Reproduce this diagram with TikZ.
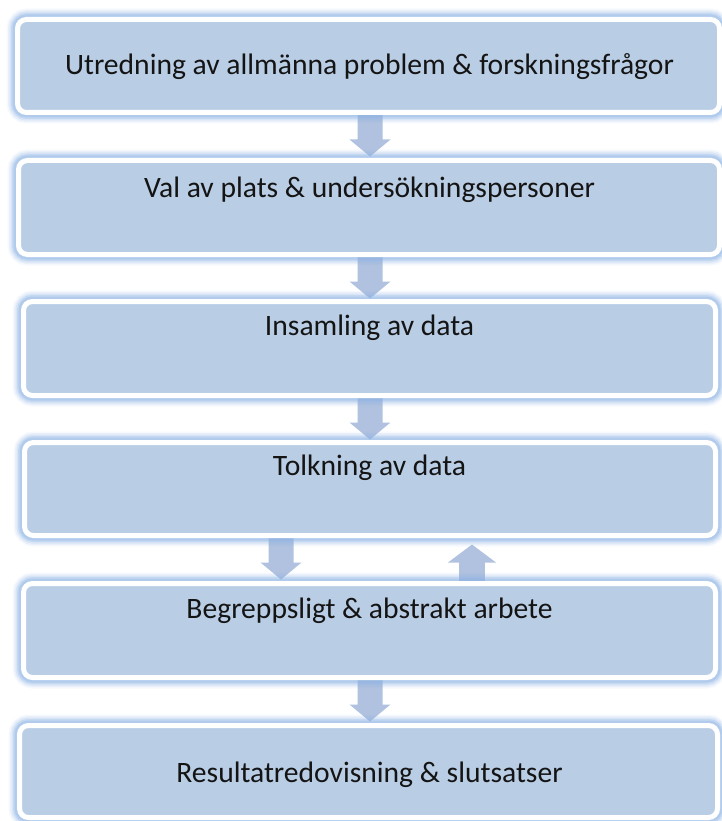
\documentclass[tikz,border=0pt]{standalone}
\usepackage{fontspec}
\setmainfont{Carlito}
\definecolor{boxfill}{RGB}{185,205,229}
\definecolor{glow}{RGB}{141,180,230}
\definecolor{arrfill}{RGB}{176,194,223}
\definecolor{txtcol}{RGB}{20,20,20}
\pgfdeclarelayer{background}
\pgfsetlayers{background,main}
\tikzset{
  box/.style={rectangle, rounded corners=9pt, fill=boxfill, draw=white, line width=5pt, inner sep=0pt,
    preaction={draw=glow, line width=22pt, draw opacity=0.08},
    preaction={draw=glow, line width=19pt, draw opacity=0.12},
    preaction={draw=glow, line width=16pt, draw opacity=0.18},
    preaction={draw=glow, line width=13pt, draw opacity=0.25},
    preaction={draw=glow, line width=10pt, draw opacity=0.35}},
  txt/.style={anchor=base, inner sep=0pt, text=txtcol, font=\fontsize{29.6}{34}\selectfont},
  downarr/.pic={\fill[arrfill] (-12.5,0) -- (-12.5,24.5) -- (-20.5,24.5) -- (0,41.5) -- (20.5,24.5) -- (12.5,24.5) -- (12.5,0) -- cycle;},
  uparr/.pic={\fill[arrfill] (-12.8,0) -- (-12.8,-18.5) -- (-24,-18.5) -- (0,-36.5) -- (24,-18.5) -- (12.8,-18.5) -- (12.8,0) -- cycle;}
}
\begin{document}
\begin{tikzpicture}[x=1pt,y=-1pt]
\useasboundingbox (0,0) rectangle (721,821);
\coordinate (cx) at (370,0);
\coordinate (cl) at (281,0);
\coordinate (cr) at (472,0);
% boxes
\node[box, minimum width=702pt, minimum height=93pt] (b1) at (368.5,66) {};
\node[box, minimum width=701pt, minimum height=94pt] (b2) at (369,207.5) {};
\node[box, minimum width=692pt, minimum height=94pt] (b3) at (369.5,348.5) {};
\node[box, minimum width=691pt, minimum height=93pt] (b4) at (370,489) {};
\node[box, minimum width=692pt, minimum height=94pt] (b5) at (369.5,630.5) {};
\node[box, minimum width=698pt, minimum height=92pt] (b6) at (368.5,771.5) {};
% arrows (behind the boxes)
\begin{pgfonlayer}{background}
\fill[white] (0,0) rectangle (721,821);
\pic at (b1.south -| cx) {downarr};
\pic at (b2.south -| cx) {downarr};
\pic at (b3.south -| cx) {downarr};
\pic at (b4.south -| cl) {downarr};
\pic at (b5.north -| cr) {uparr};
\pic at (b5.south -| cx) {downarr};
\end{pgfonlayer}
% texts
\node[txt] (t1) at (369.5,75) {Utredning av allmänna problem \& forskningsfrågor};
\node[txt] (t2) at (369.5,197) {Val av plats \& undersökningspersoner};
\node[txt] (t3) at (369.5,335) {Insamling av data};
\node[txt] (t4) at (369.5,475) {Tolkning av data};
\node[txt] (t5) at (369.5,618) {Begreppsligt \& abstrakt arbete};
\node[txt] (t6) at (369.5,782) {Resultatredovisning \& slutsatser};
\end{tikzpicture}
\end{document}
